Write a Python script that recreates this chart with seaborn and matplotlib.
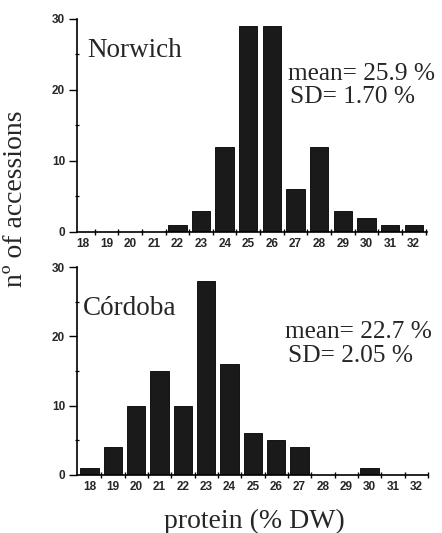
import matplotlib
matplotlib.use("Agg")
import matplotlib.pyplot as plt
import seaborn as sns
import pandas as pd
from matplotlib.ticker import FixedLocator

protein_bins = [18, 19, 20, 21, 22, 23, 24, 25, 26, 27, 28, 29, 30, 31, 32]
norwich_counts = [0, 0, 0, 0, 1, 3, 12, 29, 29, 6, 12, 3, 2, 1, 1]
cordoba_counts = [1, 4, 10, 15, 10, 28, 16, 6, 5, 4, 0, 0, 1, 0, 0]
y_ticks = [0, 10, 20, 30]
sites = ["Norwich", "Córdoba"]
stats_mean = ["mean= 25.9 %", "mean= 22.7 %"]
stats_sd = ["SD= 1.70 %", "SD= 2.05 %"]
x_label = "protein (% DW)"
y_label = "nº of accessions"

sns.set_theme(style="ticks")
plt.rcParams["font.family"] = ["Liberation Serif", "DejaVu Serif"]

fig = plt.figure(figsize=(4.42, 5.33), dpi=100)
ax_top = fig.add_axes([0.174, 0.565, 0.792, 0.400])
ax_bot = fig.add_axes([0.174, 0.109, 0.794, 0.390])

bar_color = "#1a1a1a"
tick_font = {"family": "Liberation Sans", "weight": "bold", "size": 8.5}

panels = [
    (ax_top, norwich_counts, (-0.25, 14.56), (0.031, 0.82), (0.603, 0.714), (0.609, 0.606)),
    (ax_bot, cordoba_counts, (-0.54, 14.5), (0.017, 0.769), (0.593, 0.659), (0.601, 0.543)),
]

for i, (ax, counts, xl, pos_site, pos_mean, pos_sd) in enumerate(panels):
    df = pd.DataFrame({"bin": [str(b) for b in protein_bins], "count": counts})
    sns.barplot(data=df, x="bin", y="count", color=bar_color, width=0.78,
                saturation=1, edgecolor="black", linewidth=0.6, ax=ax)
    ax.set_xlim(*xl)
    ax.set_ylim(0, 30)
    ax.set_xlabel("")
    ax.set_ylabel("")
    sns.despine(ax=ax)
    for sp in ("left", "bottom"):
        ax.spines[sp].set_linewidth(1.2)
        ax.spines[sp].set_color("black")
    ax.yaxis.set_major_locator(FixedLocator(y_ticks))
    ax.yaxis.set_minor_locator(FixedLocator([5, 15, 25]))
    ax.xaxis.set_minor_locator(FixedLocator([k + 0.5 for k in range(len(protein_bins))]))
    ax.tick_params(axis="x", which="major", length=0, pad=4.5)
    ax.tick_params(axis="x", which="minor", direction="inout", length=4.5, width=1.0, color="black")
    ax.tick_params(axis="y", which="major", direction="out", length=6, width=1.0, pad=2.5, color="black")
    ax.tick_params(axis="y", which="minor", direction="inout", length=2.5, width=0.9, color="black")
    for lab in ax.get_xticklabels() + ax.get_yticklabels():
        lab.set_fontfamily(tick_font["family"])
        lab.set_fontweight(tick_font["weight"])
        lab.set_fontsize(tick_font["size"])
    ax.text(*pos_site, sites[i], transform=ax.transAxes, fontsize=19.5, va="baseline", ha="left")
    ax.text(*pos_mean, stats_mean[i], transform=ax.transAxes, fontsize=18.3, va="baseline", ha="left")
    ax.text(*pos_sd, stats_sd[i], transform=ax.transAxes, fontsize=18.3, va="baseline", ha="left")

fig.text(0.034, 0.628, y_label, rotation=90, ha="center", va="center", fontsize=20)
fig.text(0.575, 0.022, x_label, ha="center", va="center", fontsize=20)

fig.savefig("out.png", dpi=100, facecolor="white")
